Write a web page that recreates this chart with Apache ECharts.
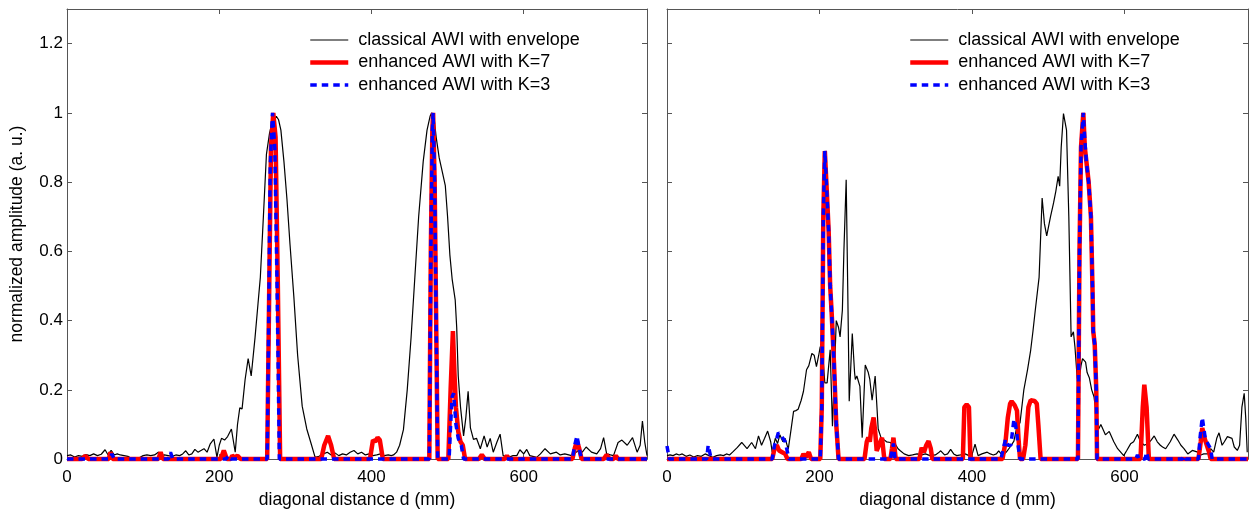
<!DOCTYPE html>
<html><head><meta charset="utf-8">
<script src="https://cdn.jsdelivr.net/npm/echarts@6/dist/echarts.min.js"></script>
<style>html,body{margin:0;padding:0;background:#fff}#c{width:1257px;height:514px}</style>
</head><body><div id="c"></div>
<script>
// ---- data ----
const xTickLabels = [0, 200, 400, 600];
const yTickLabels = [0, 0.2, 0.4, 0.6, 0.8, 1, 1.2];
const seriesNames = ['classical AWI with envelope', 'enhanced AWI with K=7', 'enhanced AWI with K=3'];
const xAxisName = 'diagonal distance d (mm)';
const yAxisName = 'normalized amplitude (a. u.)';

// left panel: [distance mm, amplitude]
const leftClassical = [[0,0.01],[5,0.012],[10,0.006],[15,0.01],[20,0.008],[25,0.013],[30,0.01],[35,0.015],[40,0.01],[45,0.014],[50,0.027],[54,0.012],[58,0.025],[62,0.012],[66,0.015],[70,0.012],[75,0.01],[80,0.008],[85,0.002],[90,0.003],[95,0.004],[100,0.01],[105,0.012],[110,0.01],[115,0.012],[120,0.02],[124,0.01],[128,0.012],[133,0.01],[138,0.008],[143,0.012],[148,0.01],[152,0.015],[156,0.024],[160,0.012],[164,0.015],[168,0.028],[172,0.02],[176,0.025],[180,0.03],[184,0.02],[188,0.043],[193,0.058],[197,0.005],[200,0.04],[203,0.06],[207,0.055],[211,0.065],[216,0.087],[221,0.02],[224,0.1],[227,0.148],[230,0.145],[234,0.23],[238,0.29],[242,0.24],[247,0.35],[251,0.45],[254,0.525],[258,0.7],[262,0.88],[266,0.94],[269,0.97],[272,0.98],[275,0.99],[278,0.98],[281,0.95],[285,0.86],[289,0.75],[293,0.62],[298,0.47],[303,0.3],[309,0.153],[315,0.087],[320,0.05],[326,0.005],[331,0.008],[337,0.015],[342,0.02],[347,0.012],[352,0.018],[357,0.01],[362,0.015],[367,0.012],[372,0.02],[377,0.025],[382,0.015],[387,0.02],[392,0.012],[397,0.015],[402,0.01],[407,0.012],[412,0.015],[417,0.01],[422,0.012],[426,0.01],[429,0.012],[433,0.02],[437,0.04],[442,0.085],[447,0.2],[452,0.35],[457,0.525],[462,0.7],[468,0.86],[473,0.95],[477,0.99],[479,1.0],[482,0.99],[485,0.93],[489,0.87],[493,0.83],[497,0.79],[500,0.7],[503,0.59],[506,0.52],[510,0.46],[512,0.38],[514,0.24],[517,0.15],[521,0.067],[524,0.12],[527,0.196],[530,0.09],[534,0.057],[538,0.06],[543,0.03],[548,0.067],[552,0.035],[556,0.06],[560,0.02],[565,0.05],[569,0.072],[573,0.01],[580,0.005],[586,0.01],[591,0.01],[595,0.027],[600,0.015],[604,0.028],[608,0.01],[612,0.008],[617,0.005],[622,0.015],[628,0.03],[635,0.015],[643,0.02],[648,0.012],[654,0.015],[663,0.01],[672,0.025],[677,0.02],[682,0.035],[689,0.02],[696,0.015],[701,0.03],[705,0.062],[709,0.015],[714,0.012],[718,0.01],[724,0.048],[729,0.055],[736,0.04],[743,0.062],[749,0.02],[753,0.04],[756,0.11],[759,0.05],[762,0.01]];
const leftK7 = [[0,0],[20,0],[24,0.01],[28,0],[55,0],[57,0.02],[60,0],[120,0],[123,0.02],[126,0],[202,0],[206,0.025],[210,0],[215,0],[217,0.01],[220,0.005],[224,0.01],[228,0],[263,0],[266,0.55],[268,0.9],[271,1.0],[274,0.93],[277,0.5],[280,0],[334,0],[338,0.04],[343,0.067],[347,0.04],[351,0],[398,0],[402,0.055],[405,0.05],[408,0.062],[411,0.055],[415,0],[476,0],[478,0.6],[480,0.95],[481,1.0],[483,0.8],[485,0.4],[487,0],[501,0],[504,0.2],[507,0.37],[509,0.25],[511,0.15],[514,0.08],[517,0.05],[520,0.04],[523,0],[541,0],[545,0.012],[549,0],[575,0],[578,0.01],[581,0],[664,0],[667,0.03],[670,0.052],[673,0.03],[676,0],[705,0],[709,0.012],[713,0],[718,0],[721,0.01],[724,0],[762,0]];
const leftK3 = [[0,0],[56,0],[59,0.015],[62,0],[133,0],[136,0.02],[139,0],[209,0],[212,0.01],[215,0],[263,0],[265,0.4],[267,0.85],[270,1.0],[273,0.9],[276,0.5],[279,0],[476,0],[478,0.6],[480,0.95],[481,1.0],[483,0.8],[485,0.4],[487,0],[502,0],[504,0.1],[506,0.18],[508,0.19],[511,0.1],[514,0.06],[518,0.04],[521,0],[664,0],[667,0.04],[670,0.067],[673,0.03],[676,0],[762,0]];

// right panel
const rightClassical = [[0,0.01],[4,0.012],[8,0.01],[12,0.015],[16,0.012],[20,0.015],[25,0.008],[30,0.012],[35,0.006],[40,0.01],[45,0.008],[50,0.015],[55,0.01],[60,0.005],[65,0.01],[70,0.012],[74,0.01],[78,0.015],[82,0.012],[86,0.02],[92,0.033],[98,0.048],[105,0.03],[111,0.048],[116,0.03],[120,0.067],[124,0.04],[128,0.06],[132,0.081],[136,0.05],[138,0.02],[142,0.06],[145,0.045],[148,0.07],[152,0.05],[155,0.06],[159,0.028],[163,0.09],[166,0.138],[169,0.14],[172,0.144],[176,0.17],[179,0.196],[183,0.258],[186,0.27],[190,0.305],[193,0.3],[196,0.267],[199,0.3],[201,0.325],[205,0.28],[207,0.22],[210,0.22],[214,0.316],[217,0.095],[222,0.4],[225,0.38],[227,0.353],[230,0.43],[232,0.6],[235,0.807],[237,0.5],[239,0.167],[243,0.363],[246,0.25],[247,0.23],[249,0.24],[253,0.21],[256,0.062],[260,0.272],[264,0.25],[266,0.23],[269,0.17],[273,0.24],[277,0.087],[281,0.06],[284,0.057],[288,0.05],[293,0.048],[296,0.04],[299,0.045],[303,0.03],[306,0.024],[311,0.015],[317,0.01],[322,0.012],[328,0.015],[334,0.012],[339,0.015],[345,0.01],[352,0.012],[356,0.018],[359,0.024],[364,0.012],[368,0.015],[372,0.028],[376,0.015],[380,0.01],[385,0.012],[391,0.015],[396,0.01],[400,0.012],[404,0.043],[408,0.01],[413,0.015],[420,0.02],[424,0.015],[428,0.012],[432,0.015],[435,0.024],[440,0.01],[445,0.02],[450,0.035],[455,0.052],[459,0.095],[463,0.105],[468,0.2],[473,0.26],[477,0.315],[480,0.37],[483,0.43],[488,0.525],[492,0.754],[495,0.68],[498,0.645],[503,0.7],[507,0.74],[510,0.774],[513,0.817],[515,0.788],[517,0.9],[520,0.998],[524,0.95],[527,0.7],[530,0.353],[533,0.368],[535,0.325],[538,0.234],[540,0.224],[543,0.27],[545,0.29],[549,0.28],[551,0.25],[554,0.234],[557,0.2],[560,0.18],[563,0.13],[566,0.086],[569,0.1],[571,0.095],[575,0.07],[580,0.08],[586,0.05],[591,0.03],[595,0.02],[599,0.01],[603,0.025],[608,0.044],[612,0.05],[617,0.072],[621,0.05],[626,0.04],[631,0.045],[635,0.055],[639,0.067],[643,0.05],[647,0.04],[650,0.035],[654,0.03],[660,0.05],[665,0.072],[670,0.055],[674,0.04],[678,0.03],[683,0.015],[689,0.025],[696,0.02],[700,0.012],[704,0.015],[709,0.015],[713,0.03],[717,0.02],[721,0.06],[724,0.076],[728,0.04],[731,0.05],[735,0.065],[741,0.06],[744,0.035],[748,0.025],[751,0.04],[754,0.15],[757,0.19],[759,0.12],[761,0.02]];
const rightK7 = [[0,0],[138,0],[141,0.03],[144,0.04],[147,0.025],[151,0.02],[155,0.015],[158,0],[176,0],[179,0.015],[182,0.005],[186,0.02],[189,0],[201,0],[203,0.15],[205,0.7],[207,0.89],[209,0.8],[212,0.66],[214,0.5],[216,0.42],[219,0.277],[222,0.1],[225,0],[259,0],[262,0.05],[264,0.062],[266,0.05],[268,0.09],[271,0.12],[273,0.08],[275,0.024],[278,0.04],[282,0.062],[285,0],[293,0],[295,0.03],[297,0.062],[300,0],[331,0],[334,0.033],[337,0.02],[340,0.04],[343,0.052],[346,0.03],[348,0],[388,0],[390,0.15],[393,0.158],[396,0.15],[398,0],[440,0],[444,0.05],[447,0.12],[450,0.16],[452,0.167],[456,0.155],[459,0.14],[461,0.06],[463,0],[467,0],[470,0.04],[474,0.15],[477,0.17],[479,0.172],[482,0.168],[485,0.16],[487,0.1],[490,0],[539,0],[541,0.6],[543,0.9],[546,1.0],[548,0.9],[550,0.86],[553,0.8],[556,0.7],[558,0.5],[559,0.37],[561,0.33],[563,0.2],[564,0],[621,0],[624,0.15],[626,0.215],[629,0.15],[632,0],[697,0],[700,0.05],[702,0.09],[705,0.06],[708,0.04],[711,0.02],[713,0],[762,0]];
const rightK3 = [[0,0.038],[3,0],[52,0],[54,0.04],[56,0.02],[58,0],[138,0],[141,0.04],[144,0.06],[146,0.076],[149,0.07],[152,0.06],[155,0.05],[158,0.02],[160,0],[201,0],[203,0.15],[205,0.7],[207,0.89],[209,0.8],[212,0.66],[214,0.5],[216,0.42],[219,0.277],[222,0.1],[225,0],[293,0],[295,0.02],[297,0.045],[299,0],[438,0],[441,0.03],[444,0.057],[447,0.04],[451,0.04],[455,0.115],[457,0.1],[459,0.07],[461,0.03],[463,0],[539,0],[541,0.6],[543,0.9],[546,1.0],[548,0.92],[550,0.86],[553,0.8],[556,0.7],[558,0.5],[559,0.37],[561,0.33],[563,0.2],[564,0],[615,0],[617,0.012],[619,0],[627,0],[629,0.02],[631,0],[676,0],[678,0.01],[680,0],[697,0],[699,0.06],[702,0.12],[704,0.09],[706,0.06],[708,0.05],[710,0.05],[713,0.03],[715,0],[762,0]];

// ---- chart ----
const FONT = "'Liberation Sans', Arial, Helvetica, sans-serif";
const AX = '#555';
const X_MAX = 762, Y_MAX = 1.3;
const chart = echarts.init(document.getElementById('c'), null, {renderer: 'canvas'});

function xAx(grid, pos, labels) {
  return {
    type: 'value', gridIndex: grid, position: pos, min: 0, max: X_MAX, interval: 200,
    axisLine: {show: true, onZero: false, lineStyle: {color: AX, width: 1}},
    axisTick: {show: true, inside: true, length: 5, lineStyle: {color: AX}},
    splitLine: {show: false},
    axisLabel: {show: labels, margin: 10, color: '#000', fontFamily: FONT, fontSize: 17,
      formatter: v => xTickLabels.includes(v) ? String(v) : ''},
    name: labels ? xAxisName : '', nameLocation: 'middle', nameGap: 31,
    nameTextStyle: {color: '#000', fontFamily: FONT, fontSize: 17.5}
  };
}
function yAx(grid, pos, labels, named) {
  return {
    type: 'value', gridIndex: grid, position: pos, min: 0, max: Y_MAX, interval: 0.2,
    axisLine: {show: true, onZero: false, lineStyle: {color: AX, width: 1}},
    axisTick: {show: true, inside: true, length: 5, lineStyle: {color: AX}},
    splitLine: {show: false},
    axisLabel: {show: labels, margin: 4, color: '#000', fontFamily: FONT, fontSize: 17,
      formatter: v => yTickLabels.some(t => Math.abs(t - v) < 1e-9) ? String(+v.toFixed(1)) : ''},
    name: named ? yAxisName : '', nameLocation: 'middle', nameGap: 41, nameRotate: 90,
    nameTextStyle: {color: '#000', fontFamily: FONT, fontSize: 17.5}
  };
}
function lines(xi, yi, classical, k7, k3) {
  const base = {type: 'line', xAxisIndex: xi, yAxisIndex: yi, showSymbol: false, symbol: 'none',
    legendIcon: 'none', clip: false, animation: false, silent: true};
  return [
    Object.assign({}, base, {name: seriesNames[0], data: classical, color: '#000',
      lineStyle: {color: '#000', width: 1.2}, z: 2}),
    Object.assign({}, base, {name: seriesNames[1], data: k7, color: '#ff0000',
      lineStyle: {color: '#ff0000', width: 4.5}, z: 3}),
    Object.assign({}, base, {name: seriesNames[2], data: k3, color: '#0000ff',
      lineStyle: {color: '#0000ff', width: 3.5, type: [6.5, 5]}, z: 4})
  ];
}
function legend(left) {
  return {
    left: left, top: 26, orient: 'vertical', itemWidth: 38, itemHeight: 18, itemGap: 4.5,
    selectedMode: false, data: seriesNames,
    itemStyle: {opacity: 0, borderWidth: 0},
    lineStyle: {width: 'inherit', type: 'inherit', color: 'inherit'},
    textStyle: {color: '#000', fontFamily: FONT, fontSize: 18, padding: [0, 0, 0, 5]}
  };
}

chart.setOption({
  animation: false,
  backgroundColor: '#fff',
  grid: [
    {left: 67, top: 9, width: 580, height: 455},
    {left: 667, top: 9, width: 581, height: 455}
  ],
  xAxis: [xAx(0, 'bottom', true), xAx(0, 'top', false), xAx(1, 'bottom', true), xAx(1, 'top', false)],
  yAxis: [yAx(0, 'left', true, true), yAx(0, 'right', false, false), yAx(1, 'left', false, false), yAx(1, 'right', false, false)],
  legend: [legend(303), legend(903)],
  series: [].concat(
    lines(0, 0, leftClassical, leftK7, leftK3),
    lines(2, 2, rightClassical, rightK7, rightK3)
  )
});
</script>
</body></html>
